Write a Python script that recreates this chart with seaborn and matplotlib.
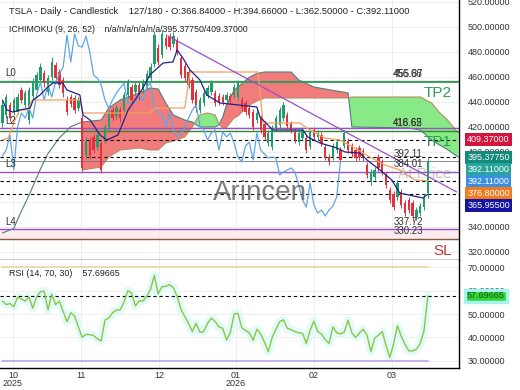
import numpy as np
import matplotlib
matplotlib.use('Agg')
import matplotlib.pyplot as plt
import seaborn as sns

sns.set_style('white')
plt.rcParams['font.family'] = ['Liberation Sans', 'DejaVu Sans']

#%% data - TSLA daily candles (bar 0 = first visible day)
opens = [422.9, 429.3, 437.3, 431.7, 431.7, 449.3, 437.3, 425.3, 444.5, 449.3,
         457.3, 462.9, 447.7, 459.7, 469.3, 463.7, 457.3, 441.3, 443.7, 442.9,
         434.9, 426.9, 397.3, 409.3, 411.7, 403.7, 406.9, 409.3, 419.7, 433.3,
         428.5, 433.3, 433.3, 445.3, 451.7, 447.7, 453.3, 449.3, 452.5, 458.9,
         470.1, 482.9, 477.3, 490.9, 491.7, 486.1, 489.3, 474.9, 468.5, 463.7,
         457.3, 447.7, 433.3, 438.9, 444.5, 447.7, 446.9, 444.5, 443.7, 441.3,
         444.5, 445.3, 443.7, 441.3, 438.9, 434.9, 431.7, 425.3, 426.9, 422.1,
         406.9, 403.7, 418.9, 421.3, 426.9, 429.3, 422.1, 415.7, 407.7, 410.9,
         410.9, 404.5, 417.3, 411.7, 413.3, 403.7, 395.7, 395.7, 401.3, 401.3,
         404.5, 408.5, 404.5, 401.3, 402.9, 400.5, 389.3, 375.7, 379.7, 395.7,
         391.7, 381.3, 369.3, 366.1, 363.7, 367.7, 358.9, 361.3, 358.9, 347.7,
         350.9, 355.7, 366.84]
closes = [437.3, 443.7, 426.9, 441.3, 443.7, 441.3, 446.9, 449.3, 455.7, 461.3,
          467.7, 454.9, 458.9, 471.7, 458.9, 453.3, 446.9, 431.7, 438.1, 433.3,
          441.3, 386.9, 409.3, 396.5, 401.3, 413.3, 385.3, 419.7, 430.9, 426.9,
          434.9, 426.9, 445.3, 455.7, 441.3, 453.3, 443.7, 455.7, 462.1, 467.7,
          493.3, 471.7, 494.1, 484.5, 483.7, 492.5, 479.7, 461.3, 458.9, 453.3,
          441.3, 434.9, 441.3, 446.9, 450.9, 454.9, 438.9, 438.9, 439.7, 445.3,
          440.5, 451.7, 454.9, 434.9, 431.7, 429.3, 419.7, 430.9, 417.3, 411.7,
          414.9, 418.9, 426.9, 433.3, 437.3, 420.5, 417.3, 409.3, 414.9, 417.3,
          401.3, 415.7, 411.7, 414.9, 406.9, 395.7, 391.7, 404.5, 407.7, 393.3,
          414.9, 401.3, 398.1, 394.9, 395.7, 394.9, 381.3, 383.7, 385.3, 386.9,
          383.7, 373.3, 361.3, 355.7, 374.9, 357.3, 350.9, 353.3, 348.5, 353.3,
          356.5, 363.7, 392.11]
highs = [440.5, 446.0, 440.0, 444.0, 446.5, 452.0, 449.0, 451.5, 458.5, 464.0,
         471.0, 465.5, 461.0, 475.5, 472.0, 466.0, 459.5, 444.5, 446.0, 445.0,
         444.0, 429.5, 412.0, 411.5, 414.0, 416.0, 409.0, 422.0, 433.5, 436.0,
         437.0, 435.5, 448.0, 458.0, 454.0, 456.0, 455.5, 458.0, 465.0, 471.0,
         496.5, 486.0, 497.0, 494.0, 495.0, 495.5, 492.0, 477.5, 471.0, 466.0,
         460.0, 450.0, 444.0, 449.5, 453.5, 457.5, 449.5, 447.0, 446.0, 447.5,
         446.5, 454.0, 457.0, 443.5, 441.0, 437.0, 434.0, 433.0, 429.5, 424.5,
         417.5, 421.0, 429.5, 436.0, 440.0, 431.5, 424.5, 418.0, 417.0, 419.5,
         413.0, 418.0, 419.5, 417.0, 415.5, 406.0, 398.0, 407.0, 410.0, 403.5,
         417.5, 410.5, 406.5, 403.5, 405.0, 402.5, 391.5, 386.0, 387.5, 398.0,
         394.0, 383.5, 371.5, 368.5, 377.0, 370.0, 361.0, 363.5, 361.0, 355.5,
         358.5, 366.0, 394.66]
lows = [419.5, 427.0, 424.5, 429.0, 430.0, 439.0, 434.5, 422.0, 442.0, 447.5,
        455.0, 452.0, 445.0, 457.5, 456.0, 451.0, 444.0, 429.0, 436.0, 431.0,
        432.5, 384.5, 394.5, 394.0, 399.0, 401.0, 382.5, 407.0, 417.5, 424.5,
        426.0, 424.0, 431.0, 443.0, 439.0, 445.5, 441.5, 447.0, 450.0, 456.5,
        468.0, 469.0, 475.0, 482.0, 481.5, 484.0, 477.0, 458.5, 456.5, 451.0,
        438.5, 432.0, 431.0, 436.5, 442.5, 445.5, 436.5, 437.0, 437.5, 439.0,
        438.0, 443.0, 441.5, 432.5, 429.5, 427.0, 417.0, 423.0, 414.5, 409.0,
        404.5, 401.0, 416.5, 419.0, 424.5, 418.0, 415.0, 407.0, 405.5, 408.5,
        398.5, 402.0, 409.5, 409.5, 404.5, 393.5, 389.0, 393.5, 399.0, 391.0,
        402.5, 399.0, 396.0, 392.5, 393.5, 392.5, 379.0, 373.5, 377.5, 384.5,
        381.5, 371.0, 359.0, 353.5, 361.5, 355.0, 348.5, 351.0, 344.5, 345.5,
        348.5, 353.5, 362.50]

# RSI(14) per bar
rsi = [55.5, 54.0, 54.5, 53.1, 57.2, 56.5, 55.5, 57.2, 52.5, 57.2,
       59.5, 59.7, 51.7, 58.5, 54.0, 55.5, 51.0, 46.7, 50.5, 49.2,
       44.5, 40.1, 41.3, 41.2, 40.8, 39.5, 38.5, 47.4, 48.3, 50.5,
       51.7, 51.7, 55.0, 59.9, 59.0, 53.4, 55.6, 55.5, 57.5, 60.5,
       66.5, 58.5, 61.6, 61.8, 62.5, 61.2, 57.5, 52.0, 49.0, 46.0,
       42.5, 46.0, 42.2, 42.5, 46.0, 48.2, 46.8, 44.5, 43.9, 39.0,
       42.0, 50.0, 50.3, 44.2, 43.0, 42.0, 38.8, 43.5, 41.5, 38.0,
       34.0, 40.0, 43.5, 46.8, 47.5, 43.9, 43.3, 42.5, 42.0, 41.8,
       37.5, 43.0, 47.0, 42.5, 41.5, 39.0, 37.5, 44.5, 42.0, 41.5,
       42.3, 47.4, 42.0, 40.0, 42.0, 43.5, 41.0, 34.0, 39.7, 41.0,
       42.5, 36.5, 31.5, 37.5, 45.0, 40.5, 37.0, 34.3, 34.3, 35.0,
       37.5, 43.0, 57.69665]

# Ichimoku lines (breakpoints: bar, price)
tenkan_x = [0, 1.2, 2.8, 4.6, 7.3, 8.1, 9.9, 11.7, 13.3, 15.9, 17.0, 20.4, 21.2, 23.1,
            25.7, 27.5, 30.4, 31.5, 33.1, 34.9, 37.0, 38.8, 42.3, 44.9, 46.0, 47.5,
            49.4, 52.0, 53.8, 57.3, 67.0, 67.8, 71.2, 79.1, 80.4, 83.6, 88.1, 90.2,
            94.1, 96.0, 99.4, 102.5, 104.6, 110.7, 112]
tenkan_y = [441.3, 433.3, 431.7, 433.3, 434.9, 441.3, 445.3, 450.9, 454.9, 454.9, 449.3,
            445.3, 429.3, 425.3, 413.3, 409.3, 413.3, 421.3, 433.3, 441.3, 450.9, 461.3,
            470.9, 471.7, 481.3, 474.9, 465.3, 457.3, 445.3, 438.9, 435.7, 427.7, 417.3,
            417.3, 411.7, 406.9, 402.9, 399.7, 398.9, 393.3, 385.3, 377.3, 366.9, 362.9,
            365.955]
kijun_x = [0, 1.5, 3.3, 4.6, 6.7, 7.8, 20.4, 21.2, 38.8, 40.2, 48.0, 49.4, 67.3, 68.6,
           78.3, 80.9, 84.9, 88.8, 92.3, 96.7, 100.7, 104.6, 108.6, 112]
kijun_y = [409.3, 410.9, 425.3, 433.3, 433.3, 441.3, 441.3, 430.9, 430.9, 434.9, 434.9,
           463.7, 463.7, 422.9, 422.9, 417.3, 410.9, 409.3, 403.7, 395.7, 389.3, 385.3,
           377.3, 376.8]
chikou_shift = 23

cloud_x = [0, 3, 5, 7, 10, 12, 15, 18, 21, 26, 28, 31, 36, 39, 41, 43, 45, 48, 50, 51,
           52, 54, 56, 57, 58, 59, 61, 62, 65, 67, 69, 76, 78, 82, 88, 91, 92, 100,
           107, 110, 113, 115, 117, 120]
span_b = [334.9, 338.5, 352.5, 365.0, 386.0, 398.5, 411.0, 420.0, 423.7, 425.3, 434.9,
          441.3, 446.9, 450.9, 450.1, 438.9, 429.3, 425.3, 423.7, 421.5, 419.7, 419.7,
          419.7, 421.3, 427.7, 437.3, 449.0, 451.7, 459.5, 462.5, 463.7, 463.7, 457.3,
          451.7, 448.5, 446.9, 419.7, 419.3, 418.9, 417.3, 409.3, 405.5, 402.0, 395.7]
span_a = [np.nan] * 8 + [385.3, 387.7, 395.7, 401.3, 402.9, 401.3, 401.3, 406.9, 408.5,
                         411.7, 419.7, 425.3, 429.3, 430.9, 429.3, 422.1, 418.9, 419.5,
                         426.9, 428.5, 437.3, 440.5, 442.9, 442.9, 442.9, 442.9, 442.9,
                         442.9, 443.7, 443.7, 443.7, 443.7, 438.9, 431.5, 426.0, 414.9]

# current ichimoku values (right-hand boxes)
ichi_vals = [409.37, 395.3775, 392.11, 392.11, 376.80, 365.955]
ichi_colors = ['#d3153d', '#15897c', '#26a69a', '#3b8fe3', '#f27a1a', '#1414a0']
dashed_vals = [409.37, 395.3775, 376.80, 365.955]

# support / resistance levels
level_vals = [456.66, 455.87, 418.62, 416.65, 384.01, 337.72, 330.23]
level_colors = ['#8f86b3', '#2f9d50', '#9a4fc9', '#2e8b2e', '#9a4fc9', '#9a4fc9', '#8b5a3c']
level_text = ['L0', 'L2', 'L3', 'L4']
level_text_at = [456.66, 418.62, 384.01, 337.72]
price_text = ['455.87', '456.66', '418.62', '416.65', '392.11', '384.01', '337.72', '330.23']
price_text_at = [455.87, 455.87, 416.65, 416.65, 392.11, 384.01, 337.72, 330.23]

trend_x = [43.6, 119.6]
trend_y = [492.5, 367.7]

month_pos = [2.8, 20.7, 41.2, 61.5, 82.0, 102.5]
month_labels = ['10\n2025', '11', '12', '01\n2026', '02', '03']

#%% figure
fig = plt.figure(figsize=(5.2, 3.9), dpi=100)
ax = fig.add_axes([0, 130 / 390, 459 / 520, 260 / 390])
ax2 = fig.add_axes([0, 22 / 390, 459 / 520, 108 / 390], sharex=ax)

bars = np.arange(len(closes))
o = np.array(opens); c = np.array(closes)
up = c >= o
cols = np.where(up, '#1e9e68', '#e5303b')

# cloud
cx = np.array(cloud_x, float); sa = np.array(span_a, float); sb = np.array(span_b, float)
ok = ~np.isnan(sa)
ax.fill_between(cx[ok], sa[ok], sb[ok], where=sa[ok] >= sb[ok], interpolate=True,
                color='#88ea86', lw=0, zorder=1)
ax.fill_between(cx[ok], sa[ok], sb[ok], where=sa[ok] < sb[ok], interpolate=True,
                color='#f27c7c', lw=0, zorder=1)
ax.plot(cx, sb, color='#4f7f7c', lw=0.8, zorder=2)
ax.plot(cx, sa, color='#b98a66', lw=0.8, zorder=2)

# pink band between the two lowest levels
ax.axhspan(330.23, 337.72, color='#fdecef', zorder=0)

for v, col in zip(level_vals, level_colors):
    ax.axhline(v, color=col, lw=1.3 if col == '#2f9d50' else 1.0, zorder=2)
for v in dashed_vals:
    ax.axhline(v, color='black', lw=0.8, ls=(0, (3, 2.5)), zorder=2)
ax.axhline(392.11, color='#777777', lw=0.6, zorder=2)

# candles
ax.vlines(bars, lows, highs, colors=cols, lw=0.7, zorder=3)
ax.bar(bars, np.maximum(np.abs(c - o), 0.6), bottom=np.minimum(o, c), width=0.62,
       color=cols, lw=0, zorder=3)

# ichimoku lines
sns.lineplot(x=bars[:-chikou_shift], y=c[chikou_shift:], color='#5ea6e6', lw=0.9, ax=ax, zorder=4)
sns.lineplot(x=kijun_x, y=kijun_y, color='#f4a05e', lw=0.9, ax=ax, zorder=4)
sns.lineplot(x=tenkan_x, y=tenkan_y, color='#22238a', lw=0.9, ax=ax, zorder=4)
sns.lineplot(x=trend_x, y=trend_y, color='#9a4fc9', lw=0.9, ax=ax, zorder=4)

# texts on the price panel
for t, v in zip(level_text, level_text_at):
    ax.annotate(t, xy=(0.8, v), xytext=(0, 2), textcoords='offset points',
                fontsize=7, color='#333333', va='bottom', ha='left', zorder=6)
for t, v in zip(price_text, price_text_at):
    ax.annotate(t, xy=(110.7, v), xytext=(0, 2), textcoords='offset points',
                fontsize=7, color='#333333', va='bottom', ha='right', zorder=6)
ax.text(114.6, 446.9, 'TP2', fontsize=11, color='#2f9d50', ha='center', va='center', zorder=6)
ax.text(114.6, 407.7, 'TP1', fontsize=11, color='#2f9d50', ha='center', va='center', zorder=6)
ax.text(116.0, 320.5, 'SL', fontsize=11, color='#b03a3a', ha='center', va='center', zorder=6)
ax.text(111.2, 382.1, 'At Price', fontsize=11, color='#888888', alpha=0.45,
        ha='center', va='center', zorder=6)
ax.text(67.8, 366.9, 'Arincen', fontsize=20, color='#666666', alpha=0.85,
        ha='center', va='center', zorder=6)

ax.text(9 / 459, 1 - 12 / 260, 'TSLA - Daily - Candlestick    127/180 - O:366.84000 - '
        'H:394.66000 - L:362.50000 - C:392.11000', transform=ax.transAxes,
        fontsize=6.75, color='#222222', va='center', ha='left', zorder=7)
ax.text(9 / 459, 1 - 30 / 260, 'ICHIMOKU (9, 26, 52)    n/a/n/a/n/a/n/a/395.37750/409.37000',
        transform=ax.transAxes, fontsize=6.3, color='#222222', va='center', ha='left', zorder=7)

# right boxes, stacked so they do not overlap
box_y = []
for v in ichi_vals:
    box_y.append(v if not box_y else min(v, box_y[-1] - 9.6))
for v, yb, col in zip(ichi_vals, box_y, ichi_colors):
    ax.text(488.5 / 459, yb, f'{v:.5f}', transform=ax.get_yaxis_transform(),
            fontsize=6.5, color='white', ha='center', va='center', clip_on=False, zorder=8,
            bbox=dict(boxstyle='square,pad=0.22', fc=col, ec='none'))

ax.set_xlim(-0.63, 120.2)
ax.set_ylim(313.3, 521.3)
price_ticks = np.arange(320, 521, 20)
ax.set_yticks(price_ticks)
# 360 / 380 sit behind the value boxes
ax.set_yticklabels(['' if t in (360, 380) else f'{t:.5f}' for t in price_ticks])
ax.yaxis.tick_right()
ax.tick_params(axis='y', length=0, pad=6, labelsize=6.5, labelcolor='#333333')
ax.tick_params(axis='x', length=0, labelbottom=False)
ax.set_xticks(month_pos)
ax.grid(True, color='#ebebeb', lw=0.6)
ax.set_axisbelow(True)
for s in ['left', 'top']:
    ax.spines[s].set_visible(False)
for s in ['right', 'bottom']:
    ax.spines[s].set_color('black'); ax.spines[s].set_linewidth(1)
ax.set_xlabel(''); ax.set_ylabel('')

#%% RSI panel
sns.lineplot(x=bars, y=rsi, color='#e2fafa', lw=6, ax=ax2, zorder=1)
ax2.plot([bars[0], bars[-1]], [70, 70], color='#e8dba8', lw=1.3, zorder=2)
ax2.plot([bars[0], bars[-1]], [30, 30], color='#c3a9ea', lw=1.3, zorder=2)
ax2.axhline(rsi[-1], color='black', lw=0.8, ls=(0, (3, 2.5)), zorder=2)
sns.lineplot(x=bars, y=rsi, color='#8cc63f', lw=1.0, ax=ax2, zorder=3)
ax2.text(9 / 459, 1 - 14 / 108, f'RSI (14, 70, 30)    {rsi[-1]:.5f}', transform=ax2.transAxes,
         fontsize=6.4, color='#222222', va='center', ha='left')
ax2.text(486 / 459, rsi[-1], f'{rsi[-1]:.5f}', transform=ax2.get_yaxis_transform(),
         fontsize=6.5, color='#0d5a0d', ha='center', va='center', clip_on=False, zorder=8,
         bbox=dict(boxstyle='square,pad=0.2', fc='#33d433', ec='#a6f3f1', lw=2.5))

ax2.set_ylim(27, 73)
ax2.set_yticks([30, 40, 50, 60, 70])
ax2.yaxis.set_major_formatter(matplotlib.ticker.StrMethodFormatter('{x:.5f}'))
ax2.yaxis.tick_right()
ax2.tick_params(axis='y', length=0, pad=6, labelsize=6.5, labelcolor='#333333')
ax2.set_xticks(month_pos)
ax2.set_xticklabels(month_labels, fontsize=6.5, color='#333333', linespacing=0.95)
ax2.tick_params(axis='x', length=0, pad=2)
ax2.grid(True, color='#ebebeb', lw=0.6)
for s in ['left', 'top']:
    ax2.spines[s].set_visible(False)
for s in ['right', 'bottom']:
    ax2.spines[s].set_color('black'); ax2.spines[s].set_linewidth(1)
ax2.set_xlabel(''); ax2.set_ylabel('')

fig.savefig('out.png', dpi=100)
